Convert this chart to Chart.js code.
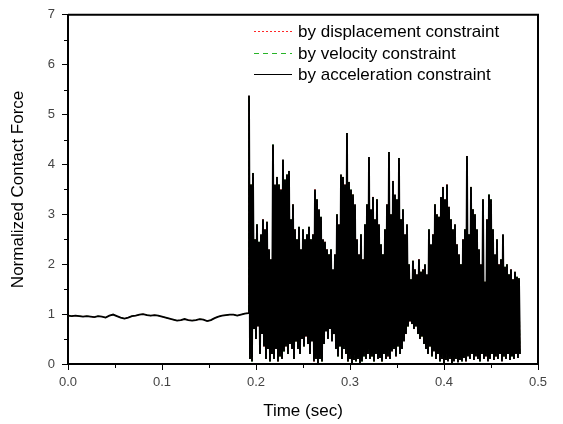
<!DOCTYPE html>
<html>
<head>
<meta charset="utf-8">
<script src="https://cdn.jsdelivr.net/npm/chart.js@4.4.1/dist/chart.umd.min.js"></script>
<style>
    html, body { margin: 0; padding: 0; background: #fff; }
    #wrap { width: 563px; height: 424px; }
</style>
</head>
<body>
<div id="wrap"><canvas id="forceChart" width="563" height="424"></canvas></div>
<script>
const xTicks = [0.0, 0.1, 0.2, 0.3, 0.4, 0.5];
const yTicks = [0, 1, 2, 3, 4, 5, 6, 7];
const seriesLabels = ["by displacement constraint", "by velocity constraint", "by acceleration constraint"];

// before contact: force read every 0.004 s
const flatStep = 0.004;
const flatForce = [
    0.97, 0.96, 0.97, 0.96, 0.95, 0.96, 0.95, 0.94, 0.96, 0.95,
    0.93, 0.97, 0.99, 0.96, 0.93, 0.91, 0.93, 0.96, 0.97, 0.99,
    1.00, 0.98, 0.97, 0.98, 0.97, 0.95, 0.93, 0.91, 0.89, 0.87,
    0.88, 0.90, 0.88, 0.87, 0.88, 0.90, 0.89, 0.86, 0.88, 0.92,
    0.95, 0.97, 0.98, 0.99, 0.99, 0.97, 0.99, 1.01, 1.02
];

// contact phase: local maxima and minima, one pair per ~0.0021 s
const contactStart = 0.19255;
const contactStep = 0.0010638;
const peakForce = [
    5.38, 3.60, 3.83, 2.50, 2.80, 2.45, 2.60, 2.90, 2.70, 2.85,
    2.30, 2.10, 4.40, 3.60, 3.75, 3.60, 3.50, 4.10, 3.70, 3.80,
    3.87, 2.90, 3.20, 2.70, 2.50, 2.75, 2.30, 2.70, 2.50, 2.60,
    2.75, 2.50, 2.60, 3.50, 3.30, 3.10, 2.95, 2.50, 2.45, 2.30,
    2.20, 2.30, 1.90, 2.20, 3.00, 2.80, 3.80, 3.75, 3.60, 4.63,
    3.65, 3.50, 3.40, 3.20, 2.50, 2.20, 2.60, 2.10, 2.80, 3.20,
    4.15, 3.10, 3.35, 2.90, 3.30, 2.80, 2.40, 2.20, 2.70, 3.20,
    4.25, 3.00, 3.67, 3.40, 3.30, 4.13, 2.90, 3.10, 2.60, 2.80,
    2.00, 1.70, 2.07, 1.90, 1.80, 2.10, 1.85, 1.90, 2.00, 1.80,
    2.70, 2.40, 2.60, 3.20, 3.00, 2.95, 3.35, 3.55, 3.30, 3.60,
    3.15, 2.90, 2.70, 2.80, 2.40, 2.20, 2.00, 2.50, 2.70, 4.17,
    2.60, 3.55, 3.10, 3.00, 2.70, 2.30, 2.00, 3.30, 1.65, 2.90,
    3.40, 3.30, 2.70, 2.20, 2.50, 2.00, 2.10, 2.60, 1.95, 2.00,
    1.80, 1.90, 1.70, 1.85, 1.75, 1.72
];
const troughForce = [
    0.10, 0.05, 0.70, 0.50, 0.75, 0.20, 0.60, 0.35, 0.10, 0.30,
    0.05, 0.20, 0.10, 0.30, 0.05, 0.15, 0.10, 0.25, 0.35, 0.20,
    0.40, 0.30, 0.10, 0.45, 0.30, 0.20, 0.50, 0.35, 0.55, 0.40,
    0.20, 0.45, 0.05, 0.10, 0.02, 0.10, 0.05, 0.40, 0.65, 0.50,
    0.70, 0.45, 0.60, 0.30, 0.15, 0.35, 0.10, 0.30, 0.20, 0.05,
    0.10, 0.02, 0.08, 0.05, 0.10, 0.02, 0.05, 0.15, 0.10, 0.20,
    0.10, 0.15, 0.05, 0.20, 0.10, 0.12, 0.05, 0.20, 0.10, 0.15,
    0.10, 0.25, 0.30, 0.15, 0.35, 0.20, 0.30, 0.45, 0.60, 0.75,
    0.85, 0.80, 0.70, 0.75, 0.60, 0.50, 0.55, 0.40, 0.30, 0.20,
    0.35, 0.15, 0.25, 0.10, 0.20, 0.05, 0.10, 0.02, 0.08, 0.05,
    0.10, 0.02, 0.05, 0.10, 0.03, 0.08, 0.05, 0.12, 0.05, 0.15,
    0.10, 0.20, 0.08, 0.15, 0.10, 0.05, 0.20, 0.10, 0.15, 0.05,
    0.10, 0.20, 0.08, 0.15, 0.10, 0.20, 0.05, 0.15, 0.10, 0.20,
    0.08, 0.15, 0.10, 0.20, 0.12, 0.20
];

// the three solutions coincide almost everywhere, so they share the points
const forcePoints = [];
flatForce.forEach((f, i) => forcePoints.push({ x: i * flatStep, y: f }));
peakForce.forEach((p, i) => {
    forcePoints.push({ x: contactStart + 2 * i * contactStep, y: p });
    forcePoints.push({ x: contactStart + (2 * i + 1) * contactStep, y: troughForce[i] });
});

const FONT = "Arial, 'Liberation Sans', sans-serif";
Chart.defaults.font.family = FONT;

const lineColors = ['rgb(255,40,40)', 'rgb(40,180,40)', 'rgb(0,0,0)'];
const lineDashes = [[2, 2], [5, 4], []];

// top/right frame and minor ticks
const frameAndMinorTicks = {
    id: 'frameAndMinorTicks',
    afterDraw(chart) {
        const { ctx, chartArea: a, scales: { x, y } } = chart;
        ctx.save();
        ctx.strokeStyle = '#000';
        ctx.lineWidth = 2;
        ctx.beginPath();
        ctx.moveTo(a.left, a.top);
        ctx.lineTo(a.right, a.top);
        ctx.lineTo(a.right, a.bottom);
        ctx.stroke();

        ctx.lineWidth = 1;
        ctx.beginPath();
        for (let i = 0; i < xTicks.length - 1; i++) {
            const px = Math.round(x.getPixelForValue((xTicks[i] + xTicks[i + 1]) / 2)) + 0.5;
            ctx.moveTo(px, a.bottom);
            ctx.lineTo(px, a.bottom + 4);
        }
        for (let i = 0; i < yTicks.length - 1; i++) {
            const py = Math.round(y.getPixelForValue((yTicks[i] + yTicks[i + 1]) / 2)) + 0.5;
            ctx.moveTo(a.left, py);
            ctx.lineTo(a.left - 4, py);
        }
        ctx.stroke();
        ctx.restore();
    }
};

// legend sits inside the plot, top right; dashes drawn as small rects
const insideLegend = {
    id: 'insideLegend',
    afterDraw(chart) {
        const ctx = chart.ctx;
        const rows = [31, 53, 74];
        seriesLabels.forEach((label, i) => {
            ctx.save();
            ctx.fillStyle = lineColors[i];
            const dash = lineDashes[i];
            if (dash.length) {
                for (let x = 254; x < 292; x += dash[0] + dash[1]) {
                    ctx.fillRect(x, rows[i], Math.min(dash[0], 292 - x), 1);
                }
            } else {
                ctx.fillRect(254, rows[i], 38, 1);
            }
            ctx.fillStyle = '#000';
            ctx.font = '17px ' + FONT;
            ctx.textBaseline = 'middle';
            ctx.fillText(label, 298, rows[i] + 1);
            ctx.restore();
        });
    }
};

const forceChart = new Chart(document.getElementById('forceChart').getContext('2d'), {
    type: 'line',
    data: {
        datasets: [
            { label: seriesLabels[0], data: forcePoints, borderColor: lineColors[0], borderDash: lineDashes[0], borderWidth: 1, order: 2 },
            { label: seriesLabels[1], data: forcePoints, borderColor: lineColors[1], borderDash: lineDashes[1], borderWidth: 1, order: 1 },
            { label: seriesLabels[2], data: forcePoints, borderColor: lineColors[2], borderWidth: 1.9, order: 0 }
        ]
    },
    options: {
        responsive: false,
        animation: false,
        events: [],
        layout: { padding: { top: 13, right: 25, left: 0, bottom: 0 } },
        elements: {
            line: { tension: 0 },
            point: { radius: 0 }
        },
        plugins: {
            legend: { display: false },
            tooltip: { enabled: false }
        },
        scales: {
            x: {
                type: 'linear',
                min: 0,
                max: 0.5,
                afterBuildTicks: (s) => { s.ticks = xTicks.map(v => ({ value: v })); },
                afterFit: (s) => { s.height = 60; },
                grid: { drawOnChartArea: false, drawTicks: true, tickLength: 6, color: '#000' },
                border: { color: '#000', width: 2 },
                ticks: {
                    padding: 5, color: '#444', font: { size: 13 }, maxRotation: 0, autoSkip: false,
                    callback: (v) => Number(v).toFixed(1)
                },
                title: { display: true, text: 'Time (sec)', color: '#000', font: { size: 17 }, padding: { top: 0, bottom: 2 } }
            },
            y: {
                min: 0,
                max: 7,
                afterBuildTicks: (s) => { s.ticks = yTicks.map(v => ({ value: v })); },
                afterFit: (s) => { s.width = 68; },
                grid: { drawOnChartArea: false, drawTicks: true, tickLength: 6, color: '#000' },
                border: { color: '#000', width: 2 },
                ticks: { padding: 7, color: '#444', font: { size: 13 }, autoSkip: false },
                title: { display: true, text: 'Normalized Contact Force', color: '#000', font: { size: 17 }, padding: { top: 8, bottom: 0 } }
            }
        }
    },
    plugins: [frameAndMinorTicks, insideLegend]
});
</script>
</body>
</html>
